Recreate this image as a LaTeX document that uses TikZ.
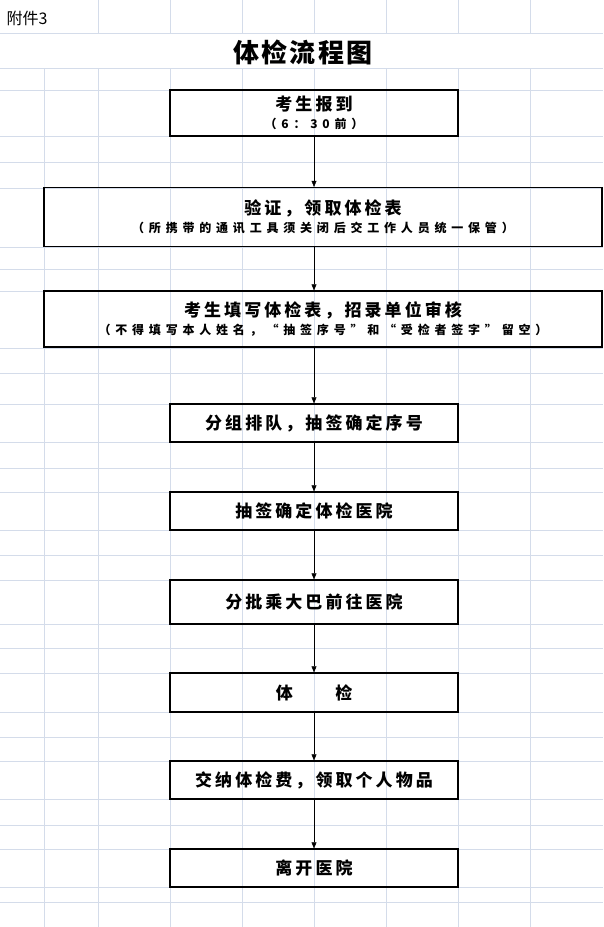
\documentclass[tikz,border=0pt]{standalone}
\usepackage{fontspec}
\setmainfont{Noto Sans CJK SC}
\newfontfamily\cjk{Noto Sans CJK SC}
\usetikzlibrary{arrows.meta, positioning}
\definecolor{gridc}{HTML}{D4DCEA}
\tikzstyle{box}=[draw, line width=1.3pt, inner sep=0pt, align=center, font=\cjk\bfseries\fontsize{17}{20}\selectfont\addfontfeatures{LetterSpace=18}]
\tikzstyle{arr} = [thin,-{Triangle[length=6pt,width=5pt]}]
\newcommand{\subline}[1]{\\[-2pt]{\fontsize{12}{14}\selectfont\addfontfeatures{LetterSpace=40}#1}}

\begin{document}
\begin{tikzpicture}[x=1pt, y=-1pt]
    \useasboundingbox (0,0) rectangle (603,927);
    % sheet grid
    \foreach \r in {33,68,90,136,162,188,247,269,291,348,373,404,442,468,492,530,555,580,624,648,673,712,737,761,799,825,849,887,902}
        \draw[gridc] (0,\r) -- (603,\r);
    \foreach \c in {98,170,242,314,386,458,530}
        {\draw[gridc] (\c,0) -- (\c,33); \draw[gridc] (\c,68) -- (\c,927);}
    \draw[gridc] (44,68) -- (44,927);

    \node[anchor=west, font=\cjk\fontsize{16}{18}\selectfont] (fj) at (3,18) {附件3};
    \node[font=\cjk\bfseries\fontsize{26}{30}\selectfont\addfontfeatures{LetterSpace=8}] (title) at (303,52) {体检流程图};

    \node [box, minimum width=288, minimum height=46](A) at (314,113) {考生报到\subline{（6：30前）}};
    \node [box, minimum width=558, minimum height=59](B) at (323,217) {验证，领取体检表\subline{（所携带的通讯工具须关闭后交工作人员统一保管）}};
    \node [box, minimum width=558, minimum height=56](C) at (323,319) {考生填写体检表，招录单位审核\subline{（不得填写本人姓名，“抽签序号”和“受检者签字”留空）}};
    \node [box, minimum width=288, minimum height=38](D) at (314,423) {分组排队，抽签确定序号};
    \node [box, minimum width=288, minimum height=38](E) at (314,511) {抽签确定体检医院};
    \node [box, minimum width=288, minimum height=44](F) at (314,602) {分批乘大巴前往医院};
    \node [box, minimum width=288, minimum height=39](G) at (314,692.5) {体\hspace{2.5em}检};
    \node [box, minimum width=288, minimum height=38](H) at (314,780) {交纳体检费，领取个人物品};
    \node [box, minimum width=288, minimum height=38](I) at (314,868) {离开医院};

    \draw[arr] (A.south) -- (A.south |- B.north);
    \draw[arr] (A.south |- B.south) -- (A.south |- C.north);
    \draw[arr] (A.south |- C.south) -- (D.north);
    \draw[arr] (D.south) -- (E.north);
    \draw[arr] (E.south) -- (F.north);
    \draw[arr] (F.south) -- (G.north);
    \draw[arr] (G.south) -- (H.north);
    \draw[arr] (H.south) -- (I.north);
\end{tikzpicture}
\end{document}
